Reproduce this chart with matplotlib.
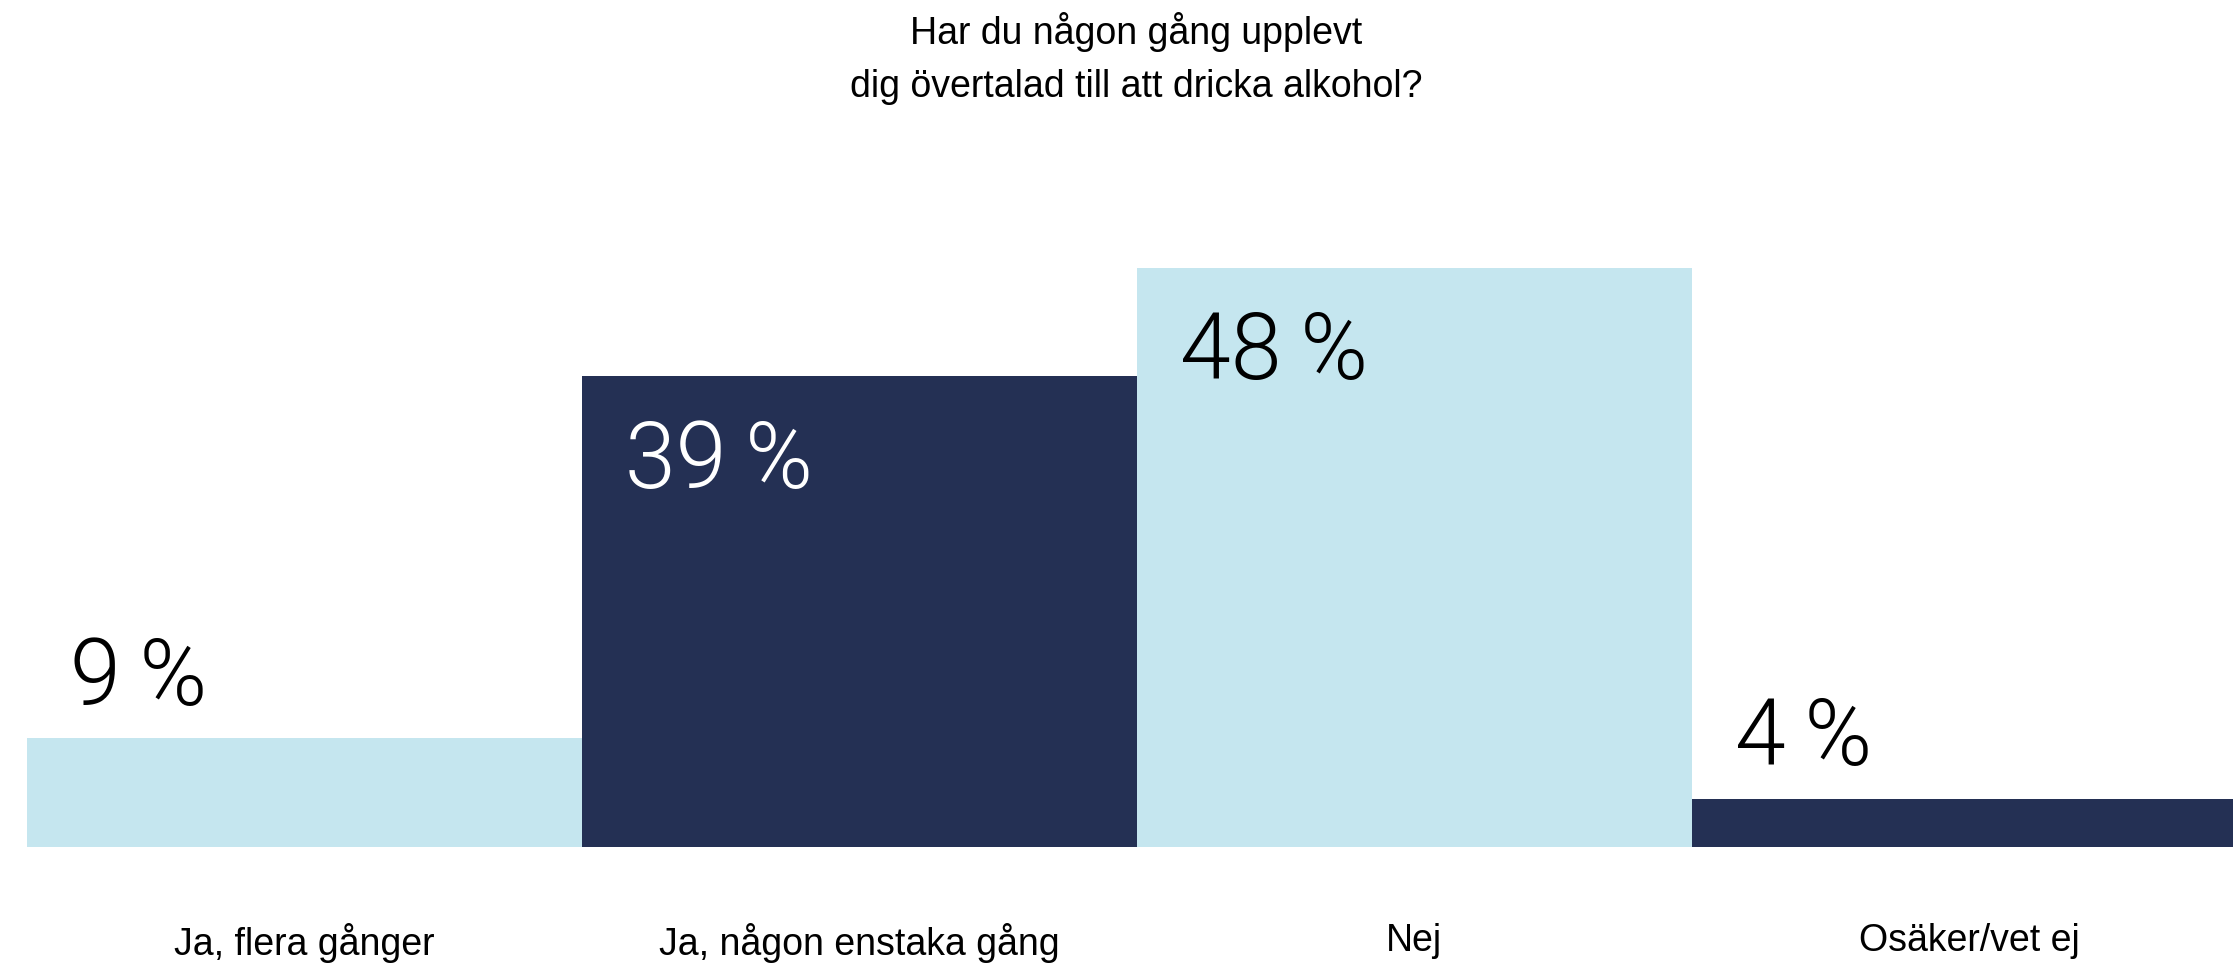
import matplotlib.pyplot as plt

# data
kategorier = ["Ja, flera gånger", "Ja, någon enstaka gång", "Nej", "Osäker/vet ej"]
andelar = [9, 39, 48, 4]
farger = ["#C5E6EF", "#243054", "#C5E6EF", "#243054"]
textfarger = ["black", "white", "black", "black"]
titel = "Har du någon gång upplevt\ndig övertalad till att dricka alkohol?"

plt.rcParams["font.family"] = ["Liberation Sans", "DejaVu Sans"]

fig = plt.figure(figsize=(22.33, 9.68), dpi=100)
ax = fig.add_axes([27 / 2233, 121 / 968, 1 - 27 / 2233, 1 - 121 / 968])

x = range(len(kategorier))
ax.bar(x, andelar, width=1.0, color=farger, linewidth=0)

# sista stapeln klipps vid högerkanten
ax.set_xlim(-0.5, 3.475)
ax.set_ylim(0, 70.2)

for i, v in enumerate(andelar):
    etikett = f"{v}\u2009%"
    if v >= 20:
        # inuti stapeln
        ax.annotate(etikett, xy=(i - 0.5, v), xytext=(31, -30),
                    textcoords="offset points", ha="left", va="top",
                    fontsize=66, color=textfarger[i],
                    family=["Roboto", "DejaVu Sans"], fontweight=300)
    else:
        ax.annotate(etikett, xy=(i - 0.5, v), xytext=(31, 24),
                    textcoords="offset points", ha="left", va="baseline",
                    fontsize=66, color=textfarger[i],
                    family=["Roboto", "DejaVu Sans"], fontweight=300)

ax.set_xticks(list(x))
ax.set_xticklabels(kategorier, fontsize=27)
ax.tick_params(axis="x", length=0, pad=55)
ax.set_yticks([])
for s in ax.spines.values():
    s.set_visible(False)

fig.text(1136 / 2233, 1 - 12 / 968, titel, ha="center", va="top",
         fontsize=27, linespacing=1.6)

fig.savefig("out.png", dpi=100)
plt.close(fig)
